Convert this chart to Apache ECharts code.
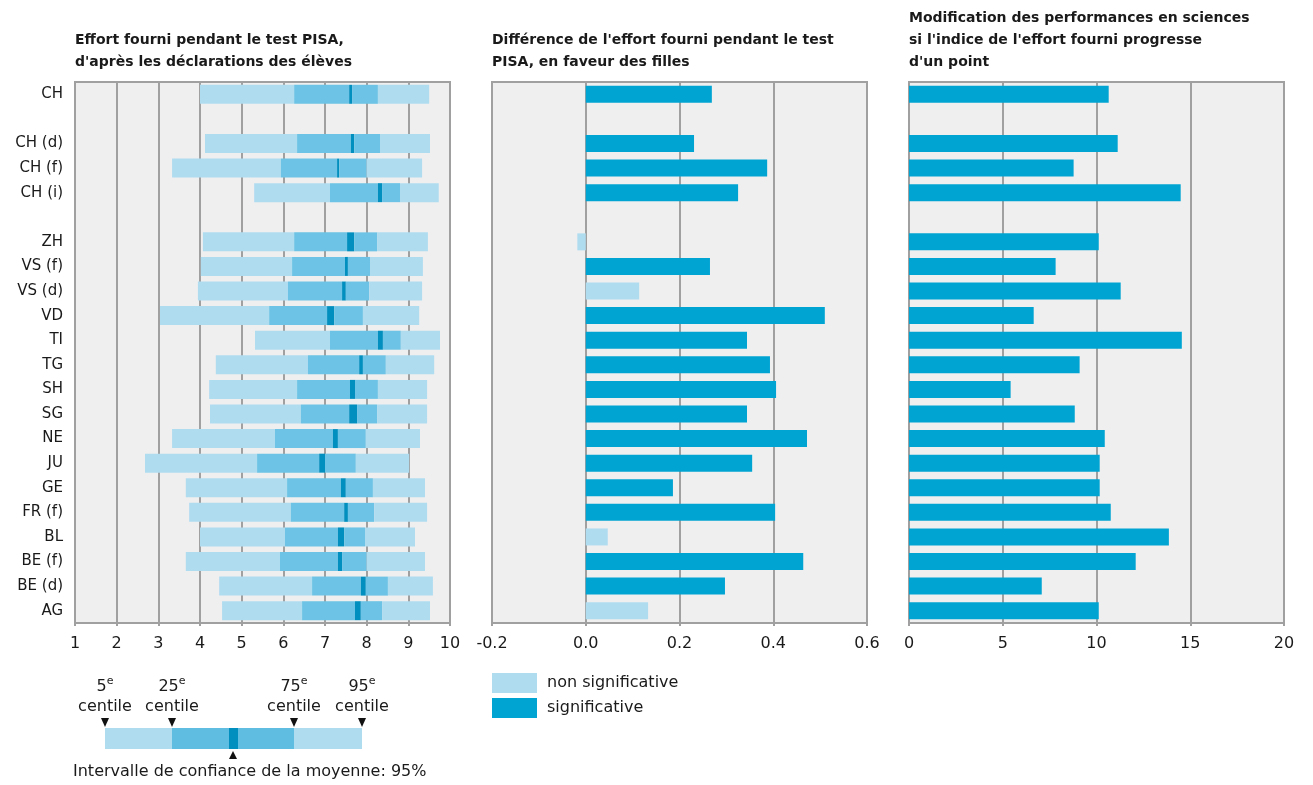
<!DOCTYPE html>
<html>
<head>
<meta charset="utf-8">
<script src="https://cdn.jsdelivr.net/npm/echarts@6/dist/echarts.min.js"></script>
<style>html,body{margin:0;padding:0;background:#fff;}#c{width:1313px;height:785px;}</style>
</head>
<body>
<div id="c"></div>
<script>
// ---- data ----
var categories = ['CH', '', 'CH (d)', 'CH (f)', 'CH (i)', ' ', 'ZH', 'VS (f)', 'VS (d)', 'VD', 'TI', 'TG', 'SH', 'SG', 'NE', 'JU', 'GE', 'FR (f)', 'BL', 'BE (f)', 'BE (d)', 'AG'];
var p5     = [4.00, null, 4.12, 3.33, 5.30, null, 4.07, 4.02, 3.95, 3.04, 5.32, 4.38, 4.22, 4.24, 3.33, 2.68, 3.66, 3.74, 4.00, 3.66, 4.46, 4.53];
var p25    = [6.26, null, 6.33, 5.94, 7.12, null, 6.26, 6.21, 6.11, 5.66, 7.12, 6.59, 6.33, 6.42, 5.80, 5.37, 6.09, 6.18, 6.04, 5.92, 6.69, 6.45];
var ciLow  = [7.58, null, 7.62, 7.29, 8.27, null, 7.53, 7.48, 7.41, 7.05, 8.27, 7.82, 7.60, 7.58, 7.19, 6.86, 7.38, 7.46, 7.31, 7.31, 7.86, 7.72];
var ciHigh = [7.65, null, 7.70, 7.34, 8.37, null, 7.70, 7.55, 7.50, 7.22, 8.39, 7.91, 7.72, 7.77, 7.31, 7.00, 7.50, 7.55, 7.46, 7.41, 7.98, 7.86];
var p75    = [8.27, null, 8.32, 8.00, 8.80, null, 8.25, 8.08, 8.06, 7.91, 8.82, 8.46, 8.27, 8.25, 7.98, 7.74, 8.15, 8.18, 7.96, 8.00, 8.51, 8.37];
var p95    = [9.50, null, 9.52, 9.33, 9.73, null, 9.47, 9.35, 9.33, 9.26, 9.76, 9.62, 9.45, 9.45, 9.28, 9.02, 9.40, 9.45, 9.16, 9.40, 9.59, 9.52];
var genderDiff = [0.269, null, 0.231, 0.387, 0.325, null, -0.018, 0.265, 0.114, 0.510, 0.344, 0.393, 0.406, 0.344, 0.472, 0.355, 0.186, 0.404, 0.047, 0.464, 0.297, 0.133];
var genderSig  = [1, null, 1, 1, 1, null, 0, 1, 0, 1, 1, 1, 1, 1, 1, 1, 1, 1, 0, 1, 1, 0];
var scoreChange = [10.65, null, 11.13, 8.78, 14.49, null, 10.12, 7.82, 11.29, 6.65, 14.55, 9.10, 5.42, 8.84, 10.44, 10.17, 10.17, 10.76, 13.86, 12.09, 7.08, 10.12];
var ticksLeft = {min: 1, max: 10, interval: 1};
var ticksMid = {min: -0.2, max: 0.6, interval: 0.2};
var ticksRight = {min: 0, max: 20, interval: 5};

// ---- styles ----
var FONT = '"DejaVu Sans", "Open Sans", sans-serif';
var C_LIGHT = '#b0dcf0', C_MED = '#6cc3e5', C_DARK = '#008fbf', C_SIG = '#00a4d3';
var C_GRID = '#a0a0a0', C_BG = '#efefef', C_TXT = '#1a1a1a';

function diff(a, b) { return a.map(function (v, i) { return (v == null || b[i] == null) ? null : +(v - b[i]).toFixed(4); }); }

var sigData = genderDiff.map(function (v, i) { return genderSig[i] === 1 ? v : null; });
var nonSigData = genderDiff.map(function (v, i) { return genderSig[i] === 0 ? v : null; });

var chart = echarts.init(document.getElementById('c'), null, {renderer: 'canvas'});

var plotTop = 82, plotH = 541, plotW = 375;
var grids = [75, 492, 909].map(function (l) {
  return {left: l, top: plotTop, width: plotW, height: plotH, show: true, backgroundColor: C_BG, borderColor: C_GRID, borderWidth: 2, containLabel: false};
});

function xAx(idx, t, fmt) {
  return {
    type: 'value', gridIndex: idx, min: t.min, max: t.max, interval: t.interval,
    axisLine: {show: true, lineStyle: {color: C_GRID, width: 2}},
    axisTick: {show: true, length: 3, lineStyle: {color: C_GRID, width: 2}},
    axisLabel: {color: C_TXT, fontSize: 16, fontFamily: FONT, margin: 13, formatter: fmt},
    splitLine: {show: true, lineStyle: {color: C_GRID, width: 2}}
  };
}
function yAx(idx, showLabel) {
  return {
    type: 'category', gridIndex: idx, data: categories, inverse: true,
    axisLine: {show: false}, axisTick: {show: false}, splitLine: {show: false},
    axisLabel: {show: showLabel, color: C_TXT, fontSize: 15, fontFamily: FONT, margin: 12}
  };
}

function seg(name, data, color) {
  return {name: name, type: 'bar', xAxisIndex: 0, yAxisIndex: 0, stack: 'dist', data: data,
    barWidth: 19, itemStyle: {color: color}, silent: true, animation: false};
}

var titleStyle = {fontSize: 14, fontWeight: 'bold', fontFamily: FONT, color: C_TXT, lineHeight: 22};

var option = {
  animation: false,
  title: [
    {text: "Effort fourni pendant le test PISA,\nd'après les déclarations des élèves", left: 75, top: 29, padding: 0, textStyle: titleStyle},
    {text: "Différence de l'effort fourni pendant le test\nPISA, en faveur des filles", left: 492, top: 29, padding: 0, textStyle: titleStyle},
    {text: "Modification des performances en sciences\nsi l'indice de l'effort fourni progresse\nd'un point", left: 909, top: 7, padding: 0, textStyle: titleStyle}
  ],
  legend: {
    data: ['non significative', 'significative'], orient: 'vertical', left: 492, top: 673, padding: 0,
    itemWidth: 45, itemHeight: 20, itemGap: 5, icon: 'rect', selectedMode: false,
    textStyle: {fontSize: 16, fontFamily: FONT, color: C_TXT, padding: [2, 0, 0, 5]}
  },
  grid: grids,
  xAxis: [
    xAx(0, ticksLeft),
    xAx(1, ticksMid, function (v) { return v.toFixed(1); }),
    xAx(2, ticksRight)
  ],
  yAxis: [yAx(0, true), yAx(1, false), yAx(2, false)],
  series: [
    seg('base', p5, 'rgba(0,0,0,0)'),
    seg('5-25', diff(p25, p5), C_LIGHT),
    seg('25-ci', diff(ciLow, p25), C_MED),
    seg('ci', diff(ciHigh, ciLow), C_DARK),
    seg('ci-75', diff(p75, ciHigh), C_MED),
    seg('75-95', diff(p95, p75), C_LIGHT),
    {name: 'non significative', type: 'bar', xAxisIndex: 1, yAxisIndex: 1, stack: 'g', data: nonSigData,
      barWidth: 17, itemStyle: {color: C_LIGHT}, animation: false},
    {name: 'significative', type: 'bar', xAxisIndex: 1, yAxisIndex: 1, stack: 'g', data: sigData,
      barWidth: 17, itemStyle: {color: C_SIG}, animation: false},
    {name: 'score', type: 'bar', xAxisIndex: 2, yAxisIndex: 2, data: scoreChange,
      barWidth: 17, itemStyle: {color: C_SIG}, animation: false}
  ],
  graphic: (function () {
    var g = [];
    var y0 = 728, h = 21;
    g.push({type: 'rect', shape: {x: 105, y: y0, width: 67, height: h}, style: {fill: C_LIGHT}});
    g.push({type: 'rect', shape: {x: 172, y: y0, width: 57, height: h}, style: {fill: '#5fbde2'}});
    g.push({type: 'rect', shape: {x: 229, y: y0, width: 9, height: h}, style: {fill: C_DARK}});
    g.push({type: 'rect', shape: {x: 238, y: y0, width: 56, height: h}, style: {fill: '#5fbde2'}});
    g.push({type: 'rect', shape: {x: 294, y: y0, width: 68, height: h}, style: {fill: C_LIGHT}});
    var marks = [[105, '5'], [172, '25'], [294, '75'], [362, '95']];
    marks.forEach(function (m) {
      g.push({type: 'polygon', shape: {points: [[m[0] - 4, 718], [m[0] + 4, 718], [m[0], 727]]}, style: {fill: '#111'}});
      g.push({type: 'text', x: m[0], y: 687, style: {
        text: '{n|' + m[1] + '}{s|e}', align: 'center', verticalAlign: 'middle',
        rich: {n: {fontSize: 16, fontFamily: FONT, fill: C_TXT, lineHeight: 22},
               s: {fontSize: 11, fontFamily: FONT, fill: C_TXT, verticalAlign: 'top', lineHeight: 8}}
      }});
      g.push({type: 'text', x: m[0], y: 707, style: {text: 'centile', align: 'center', verticalAlign: 'middle', fontSize: 16, fontFamily: FONT, fill: C_TXT}});
    });
    g.push({type: 'polygon', shape: {points: [[233, 751], [229, 759], [237, 759]]}, style: {fill: '#111'}});
    g.push({type: 'text', x: 73, y: 772, style: {text: 'Intervalle de confiance de la moyenne: 95%', align: 'left', verticalAlign: 'middle', fontSize: 16, fontFamily: FONT, fill: C_TXT}});
    return g;
  })()
};
chart.setOption(option);
</script>
</body>
</html>
